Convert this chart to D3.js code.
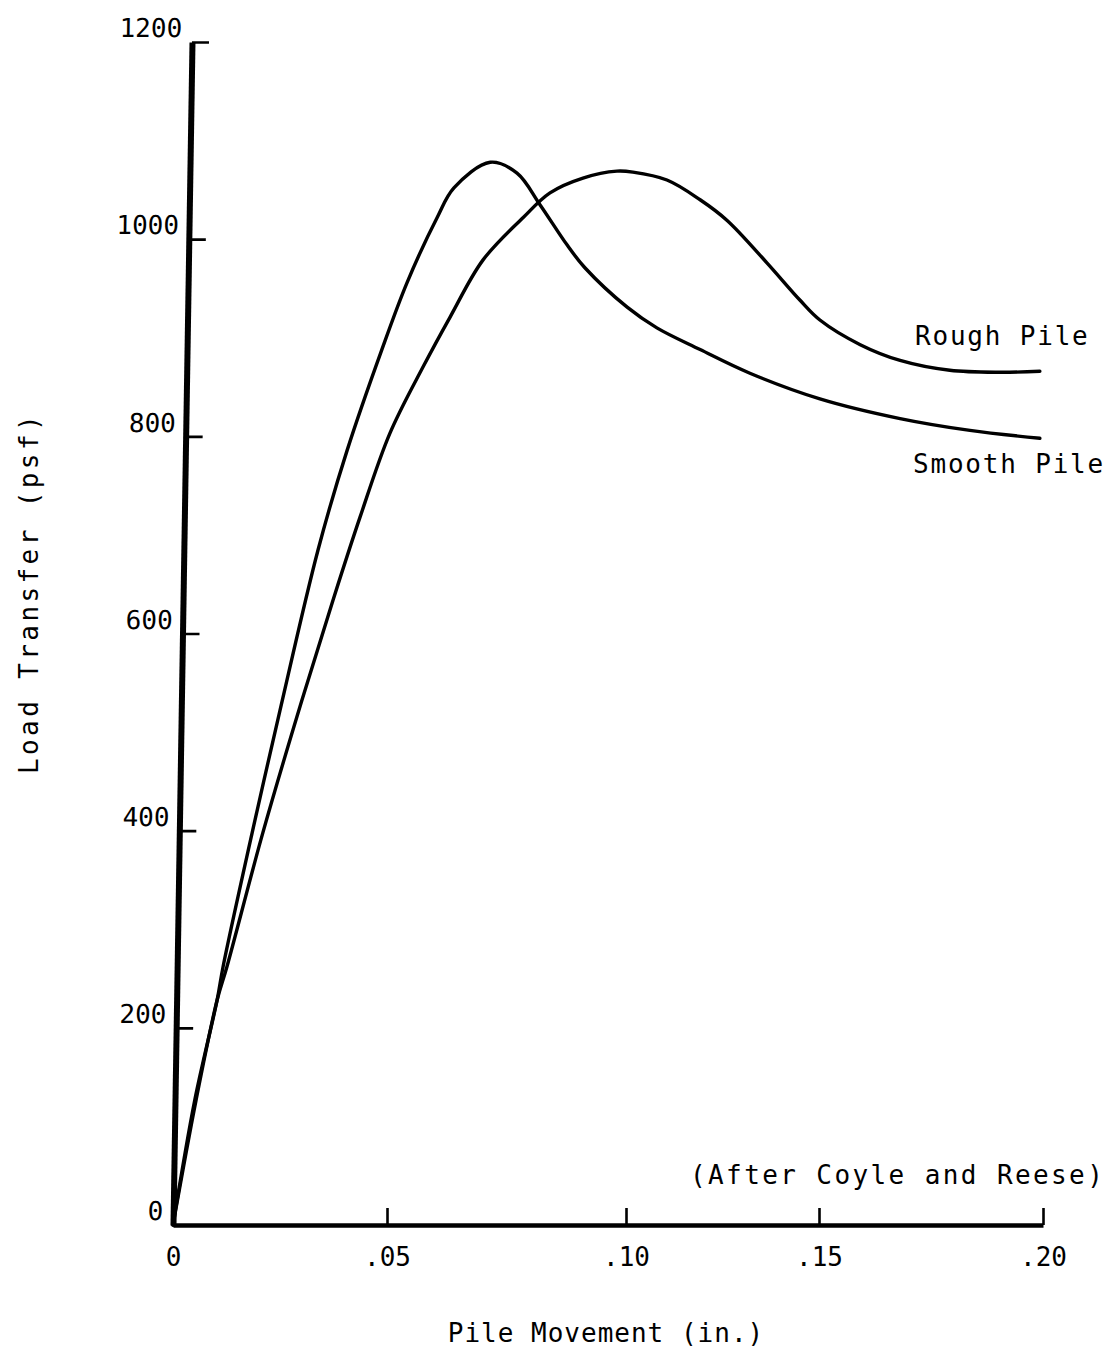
<!DOCTYPE html>
<html>
<head>
<meta charset="utf-8">
<script src="https://cdn.jsdelivr.net/npm/d3@7"></script>
<style>
  html, body { margin: 0; padding: 0; background: #fff; }
  svg { display: block; }
  text { font-family: "DejaVu Sans Mono", monospace; fill: #000; }
</style>
</head>
<body>
<svg id="chart" width="1114" height="1354"></svg>
<script>
// ---- data ----
const xTicks = [0, 0.05, 0.10, 0.15, 0.20];
const xTickLabels = ["0", ".05", ".10", ".15", ".20"];
const yTicks = [0, 200, 400, 600, 800, 1000, 1200];
const yTickLabels = ["0", "200", "400", "600", "800", "1000", "1200"];

// Rough Pile (broad peak near .10)
const roughX = [0, 0.0054, 0.0103, 0.0126, 0.0210, 0.0301, 0.0374, 0.0437, 0.0506, 0.0575, 0.0632, 0.0701, 0.0785, 0.0841, 0.0910, 0.0981, 0.1018, 0.1106, 0.1192, 0.1262, 0.1365, 0.1451, 0.1502, 0.1592, 0.1681, 0.1792, 0.1904, 0.1993];
const roughY = [0, 127, 228, 262, 398, 532, 634, 718, 803, 870, 921, 979, 1022, 1047, 1062, 1069, 1068, 1060, 1040, 1019, 976, 938, 918, 893, 877, 867, 865, 866];

// Smooth Pile (sharp peak near .07)
const smoothX = [0, 0.0051, 0.0103, 0.0117, 0.0185, 0.0250, 0.0339, 0.0407, 0.0488, 0.0542, 0.0605, 0.0640, 0.0716, 0.0772, 0.0820, 0.0877, 0.0914, 0.1003, 0.1080, 0.1192, 0.1321, 0.1502, 0.1681, 0.1837, 0.1993];
const smoothY = [0, 127, 228, 262, 398, 522, 685, 786, 888, 956, 1022, 1052, 1078, 1067, 1035, 994, 971, 931, 910, 888, 864, 838, 818, 806, 798];

const seriesNames = ["Rough Pile", "Smooth Pile"];
const xTitle = "Pile Movement (in.)";
const yTitle = "Load Transfer (psf)";
const note = "(After Coyle and Reese)";

// ---- layout ----
const svg = d3.select("#chart");
svg.append("rect").attr("width", 1114).attr("height", 1354).attr("fill", "#fff");

const x = d3.scaleLinear().domain(xTicks).range([173, 387, 626, 819, 1043]);
const y = d3.scaleLinear().domain([0, 1200]).range([1225, 42]);
const slant = -Math.atan(19 / 1183) * 180 / Math.PI;

// curves
const line = d3.line()
  .x(d => x(d[0]))
  .y(d => y(d[1]))
  .curve(d3.curveCatmullRom.alpha(0.5));

const rough = roughX.map((v, i) => [v, roughY[i]]);
const smooth = smoothX.map((v, i) => [v, smoothY[i]]);

svg.append("g")
  .selectAll("path.curve")
  .data([rough, smooth])
  .join("path")
  .attr("class", "curve")
  .attr("d", line)
  .attr("fill", "none")
  .attr("stroke", "#000")
  .attr("stroke-width", 3.4)
  .attr("stroke-linejoin", "round")
  .attr("stroke-linecap", "round");

// x axis
const xAxis = d3.axisBottom(x)
  .tickValues(xTicks)
  .tickFormat((d, i) => xTickLabels[i])
  .tickSizeInner(-17)
  .tickSizeOuter(0)
  .tickPadding(0);

const gx = svg.append("g").attr("transform", `translate(0,${y(0)})`).call(xAxis);
gx.select(".domain").attr("stroke", "#000").attr("stroke-width", 4.5);
gx.selectAll(".tick line").attr("stroke", "#000").attr("stroke-width", 2.6);
gx.selectAll(".tick text")
  .attr("y", 41)
  .attr("dy", 0)
  .style("font-family", "DejaVu Sans Mono")
  .style("font-size", "26px")
  .style("letter-spacing", "0px");

// y axis (slightly slanted like the hand-drawn original)
const yAxis = d3.axisLeft(y)
  .tickValues(yTicks)
  .tickFormat((d, i) => yTickLabels[i])
  .tickSizeInner(-17)
  .tickSizeOuter(0)
  .tickPadding(0);

const gyOuter = svg.append("g")
  .attr("transform", `translate(${x(0)},${y(0)}) skewX(${slant})`);
const gy = gyOuter.append("g")
  .attr("transform", `translate(0,${-y(0)})`)
  .call(yAxis);
gy.select(".domain").attr("stroke", "#000").attr("stroke-width", 6);
gy.selectAll(".tick line").attr("stroke", "#000").attr("stroke-width", 2.6);
gy.selectAll(".tick text")
  .attr("x", -10)
  .attr("dy", "-0.2em")
  .style("font-family", "DejaVu Sans Mono")
  .style("font-size", "26px");

// axis titles
svg.append("text")
  .attr("x", 606).attr("y", 1342)
  .attr("text-anchor", "middle")
  .style("font-size", "26px")
  .style("letter-spacing", "1px")
  .text(xTitle);

svg.append("text")
  .attr("transform", "translate(38,593) rotate(-90)")
  .attr("text-anchor", "middle")
  .style("font-size", "26px")
  .style("letter-spacing", "3.4px")
  .text(yTitle);

// series labels
svg.append("text")
  .attr("x", 915).attr("y", 345)
  .style("font-size", "26px")
  .style("letter-spacing", "1.8px")
  .text(seriesNames[0]);

svg.append("text")
  .attr("x", 913).attr("y", 473)
  .style("font-size", "26px")
  .style("letter-spacing", "1.8px")
  .text(seriesNames[1]);

// source note
svg.append("text")
  .attr("x", 690).attr("y", 1184)
  .style("font-size", "26px")
  .style("letter-spacing", "2.4px")
  .text(note);
</script>
</body>
</html>
